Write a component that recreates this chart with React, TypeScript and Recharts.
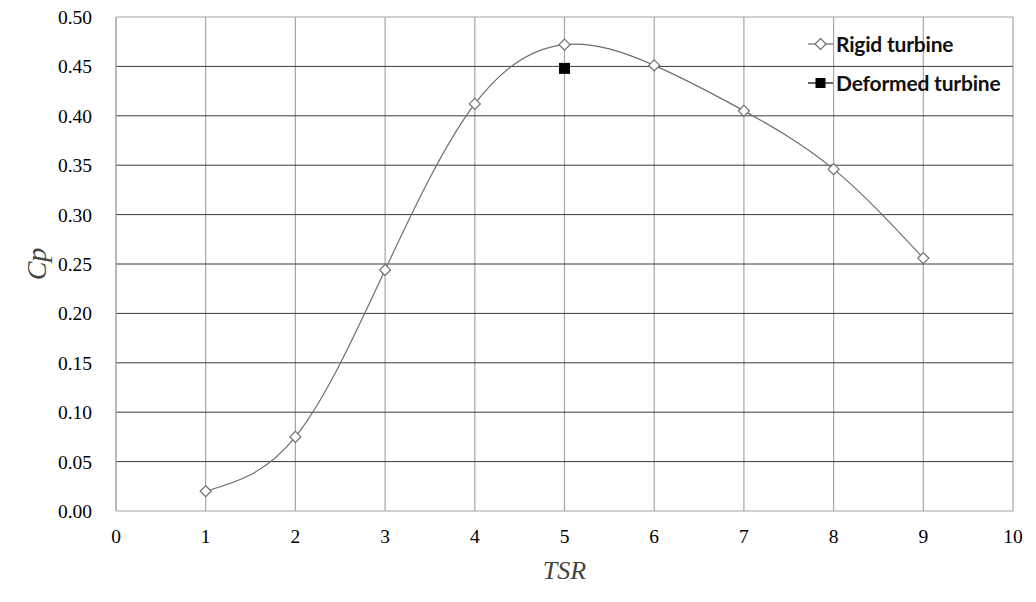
import { ComposedChart, Line, Scatter, XAxis, YAxis, CartesianGrid, ReferenceLine } from 'recharts';

const tsrValues = [1, 2, 3, 4, 5, 6, 7, 8, 9];
const rigidCp = [0.020, 0.075, 0.244, 0.412, 0.472, 0.451, 0.405, 0.346, 0.256];
const deformedTsr = [5];
const deformedCp = [0.448];
const xTicks = [0, 1, 2, 3, 4, 5, 6, 7, 8, 9, 10];
const yTicks = [0, 0.05, 0.1, 0.15, 0.2, 0.25, 0.3, 0.35, 0.4, 0.45, 0.5];

const rigidData = tsrValues.map((tsr, i) => ({ tsr, cp: rigidCp[i] }));
const deformedData = deformedTsr.map((tsr, i) => ({ tsr, cp: deformedCp[i] }));

const serif = '"Liberation Serif", "Times New Roman", serif';

function Diamond(props: any) {
    const { cx, cy } = props;
    if (cx == null || cy == null) return null;
    const r = 5.5;
    return (
        <path
            d={`M${cx},${cy - r} L${cx + r},${cy} L${cx},${cy + r} L${cx - r},${cy} Z`}
            fill="#fff"
            stroke="#6e6e6e"
            strokeWidth={1.2}
        />
    );
}

function Square(props: any) {
    const { cx, cy } = props;
    if (cx == null || cy == null) return null;
    return <rect x={cx - 5.5} y={cy - 5.5} width={11} height={11} fill="#000" />;
}

function ChartLegend() {
    const item = { display: 'flex', alignItems: 'center', height: 39 } as const;
    const text = { fontFamily: 'Lato, "Open Sans", sans-serif', fontWeight: 700, fontSize: 21, color: '#111', marginLeft: 3, letterSpacing: -0.2 };
    return (
        <div style={{ position: 'absolute', left: 808, top: 24 }}>
            <div style={item}>
                <svg width={25} height={14}>
                    <line x1={0} y1={7} x2={25} y2={7} stroke="#6e6e6e" strokeWidth={1.2} />
                    <path d="M12.5,1.5 L18,7 L12.5,12.5 L7,7 Z" fill="#fff" stroke="#6e6e6e" strokeWidth={1.2} />
                </svg>
                <span style={text}>Rigid turbine</span>
            </div>
            <div style={item}>
                <svg width={25} height={14}>
                    <line x1={0} y1={7} x2={25} y2={7} stroke="#000" strokeWidth={1.2} />
                    <rect x={7.5} y={2} width={10} height={10} fill="#000" />
                </svg>
                <span style={text}>Deformed turbine</span>
            </div>
        </div>
    );
}

export default function App() {
    return (
        <div style={{ position: 'absolute', left: 0, top: 0, width: 1036, height: 602, background: '#fff' }}>
            <ComposedChart width={1036} height={602} margin={{ top: 17, right: 23, bottom: 61, left: 0 }}>
                <CartesianGrid horizontal={false} stroke="#a6a6a6" strokeWidth={1.2} />
                <CartesianGrid vertical={false} stroke="#3a3a3a" strokeWidth={1} horizontalValues={yTicks.slice(1, -1)} />
                <XAxis
                    type="number"
                    dataKey="tsr"
                    domain={[0, 10]}
                    ticks={xTicks}
                    height={30}
                    stroke="#a6a6a6"
                    tickLine={false}
                    tickMargin={12}
                    tick={{ fill: '#000', fontSize: 19.5, fontFamily: serif }}
                    label={{ value: 'TSR', position: 'bottom', offset: 20, style: { fontFamily: serif, fontStyle: 'italic', fontSize: 26, fill: '#444' } }}
                />
                <YAxis
                    type="number"
                    dataKey="cp"
                    domain={[0, 0.5]}
                    ticks={yTicks}
                    width={116}
                    stroke="#a6a6a6"
                    tickLine={false}
                    tickMargin={18}
                    tickFormatter={(v: number) => v.toFixed(2)}
                    tick={{ fill: '#000', fontSize: 19.5, fontFamily: serif }}
                    label={{ value: 'Cp', angle: -90, position: 'insideLeft', offset: 36, style: { fontFamily: serif, fontStyle: 'italic', fontSize: 28, fill: '#444', textAnchor: 'middle' } }}
                />
                <ReferenceLine y={0.5} stroke="#a6a6a6" strokeWidth={1.2} />
                <Line
                    data={rigidData}
                    dataKey="cp"
                    type="natural"
                    stroke="#6e6e6e"
                    strokeWidth={1.2}
                    dot={<Diamond />}
                    activeDot={false}
                    isAnimationActive={false}
                    name="Rigid turbine"
                />
                <Scatter
                    data={deformedData}
                    dataKey="cp"
                    shape={<Square />}
                    isAnimationActive={false}
                    name="Deformed turbine"
                />
            </ComposedChart>
            <ChartLegend />
        </div>
    );
}
